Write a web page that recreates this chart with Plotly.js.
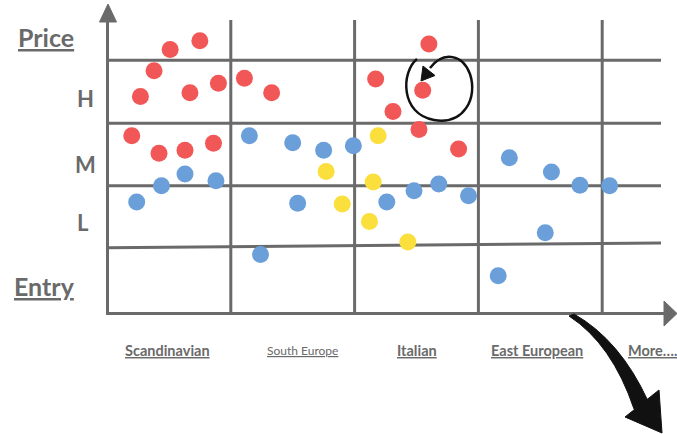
<!DOCTYPE html>
<html>
<head>
<meta charset="utf-8">
<script src="https://cdn.plot.ly/plotly-3.0.1.min.js"></script>
<style>html,body{margin:0;padding:0;background:#fff;}#chart{width:677px;height:434px;}</style>
</head>
<body>
<div id="chart"></div>
<script>
// ---- Data (x in column units: 0..5 one column per category; y in price-level units) ----
const categories = ['Scandinavian', 'South Europe', 'Italian', 'East European', 'More….'];
const priceLevels = ['H', 'M', 'L'];

const redX = [0.51, 0.75, 0.38, 0.27, 0.67, 0.90, 1.11, 1.33, 0.20, 0.42, 0.63, 0.86, 2.60, 2.17, 2.55, 2.31, 2.52, 2.84];
const redY = [4.22, 4.36, 3.88, 3.47, 3.53, 3.68, 3.76, 3.53, 2.84, 2.56, 2.61, 2.72, 4.31, 3.75, 3.57, 3.23, 2.94, 2.63];

const blueX = [1.15, 1.50, 1.75, 1.99, 0.63, 0.44, 0.88, 0.24, 1.54, 2.26, 2.48, 2.68, 2.92, 1.24, 3.25, 3.59, 3.82, 4.06, 3.54, 3.16];
const blueY = [2.84, 2.73, 2.61, 2.68, 2.23, 2.04, 2.12, 1.78, 1.76, 1.78, 1.96, 2.07, 1.88, 0.94, 2.49, 2.26, 2.05, 2.04, 1.29, 0.60];

const yellowX = [2.19, 1.77, 2.15, 1.90, 2.12, 2.43];
const yellowY = [2.84, 2.27, 2.10, 1.75, 1.47, 1.14];

// ---- Layout helpers ----
const W = 677, H = 434;
const X0 = 107, XS = 123.8, Y0 = 313.3, YS = 62.5;
const tx = p => (p - X0) / XS;
const ty = p => (Y0 - p) / YS;
const pt = (x, y) => tx(x).toFixed(4) + ',' + ty(y).toFixed(4);
function path(d) {
  return d.map(seg => {
    let s = seg[0];
    for (let i = 1; i < seg.length; i += 2) s += (i > 1 ? ' ' : '') + pt(seg[i], seg[i + 1]);
    return s;
  }).join(' ');
}

const GRAY = '#6a6a6a';
const shapes = [];

// grid: vertical lines between categories
[1, 2, 3, 4].forEach(u => {
  shapes.push({type: 'line', xref: 'x', yref: 'y', x0: u, x1: u, y0: 0, y1: ty(20),
    line: {color: GRAY, width: 3}, layer: 'below'});
});
// grid: horizontal level lines (left y, right y)
[[1.05, 1.125], [2.04, 2.04], [3.04, 3.04], [4.05, 4.05]].forEach(l => {
  shapes.push({type: 'line', xref: 'x', yref: 'y', x0: 0, x1: tx(661), y0: l[0], y1: l[1],
    line: {color: GRAY, width: 3}, layer: 'below'});
});
// axes
shapes.push({type: 'line', xref: 'x', yref: 'y', x0: tx(107.5), x1: tx(107.5), y0: ty(314.5), y1: ty(20),
  line: {color: GRAY, width: 3}, layer: 'below'});
shapes.push({type: 'line', xref: 'x', yref: 'y', x0: tx(106), x1: tx(666), y0: ty(313.5), y1: ty(313.5),
  line: {color: GRAY, width: 3}, layer: 'below'});
shapes.push({type: 'path', xref: 'x', yref: 'y', layer: 'below',
  path: path([['M', 99.5, 22], ['L', 116.5, 22], ['L', 108, 4]]) + ' Z',
  fillcolor: GRAY, line: {color: GRAY, width: 1}});
shapes.push({type: 'path', xref: 'x', yref: 'y', layer: 'below',
  path: path([['M', 664, 301], ['L', 664, 326], ['L', 677, 313.5]]) + ' Z',
  fillcolor: GRAY, line: {color: GRAY, width: 1}});

// circular arrow
shapes.push({type: 'path', xref: 'x', yref: 'y', layer: 'above',
  path: path([['M', 417, 59], ['C', 401, 72, 400, 114, 434, 120], ['C', 464, 125, 478, 98, 470, 74], ['C', 463, 55, 444, 50, 430, 68]]),
  line: {color: '#111', width: 2.5}});
shapes.push({type: 'path', xref: 'x', yref: 'y', layer: 'above',
  path: path([['M', 421, 81], ['L', 423, 66], ['L', 435, 75.5]]) + ' Z',
  fillcolor: '#111', line: {color: '#111', width: 1}});

// big curved arrow
shapes.push({type: 'path', xref: 'x', yref: 'y', layer: 'above',
  path: path([['M', 569, 316], ['Q', 612, 344, 634, 409], ['L', 648, 401], ['Q', 620, 340, 574, 314]]) + ' Z',
  fillcolor: '#111', line: {color: '#111', width: 1}});
shapes.push({type: 'path', xref: 'x', yref: 'y', layer: 'above',
  path: path([['M', 625, 417], ['L', 659, 390], ['L', 662, 433]]) + ' Z',
  fillcolor: '#111', line: {color: '#111', width: 1}});

// ---- Text ----
const annotations = [];
const FONT = 'Lato, "Open Sans", sans-serif';
function label(text, x, y, size, weight) {
  annotations.push({text: text, x: tx(x), y: ty(y), xref: 'x', yref: 'y', showarrow: false,
    xanchor: 'center', yanchor: 'middle',
    font: {family: FONT, size: size, color: GRAY, weight: weight || 700}});
}
label('<u>Price</u>', 46, 37, 25);
label('<u>Entry</u>', 44, 286, 25);
const levelPos = [[85, 98], [85, 164], [83, 222]];
priceLevels.forEach((t, i) => label(t, levelPos[i][0], levelPos[i][1], 22));

const catPos = [167, 302.5, 416.5, 536.5, 652];
const catSize = [14.5, 12, 14.5, 14.5, 14.5];
const catWeight = [700, 400, 700, 700, 700];
categories.forEach((c, i) => label('<u>' + c + '</u>', catPos[i], 350, catSize[i], catWeight[i]));

// ---- Traces ----
const mk = (x, y, color) => ({type: 'scatter', mode: 'markers', x: x, y: y, hoverinfo: 'skip',
  marker: {size: 17, color: color, line: {width: 0}}});
const traces = [
  mk(redX, redY, '#f25757'),
  mk(blueX, blueY, '#6b9fd9'),
  mk(yellowX, yellowY, '#fbdf3c')
];

const layout = {
  width: W, height: H,
  margin: {l: 0, r: 0, t: 0, b: 0, pad: 0},
  paper_bgcolor: '#ffffff', plot_bgcolor: '#ffffff',
  showlegend: false, hovermode: false,
  xaxis: {range: [tx(0), tx(W)], visible: false, fixedrange: true},
  yaxis: {range: [ty(H), ty(0)], visible: false, fixedrange: true},
  shapes: shapes, annotations: annotations
};
Plotly.newPlot('chart', traces, layout, {displayModeBar: false, staticPlot: true});
</script>
</body>
</html>
